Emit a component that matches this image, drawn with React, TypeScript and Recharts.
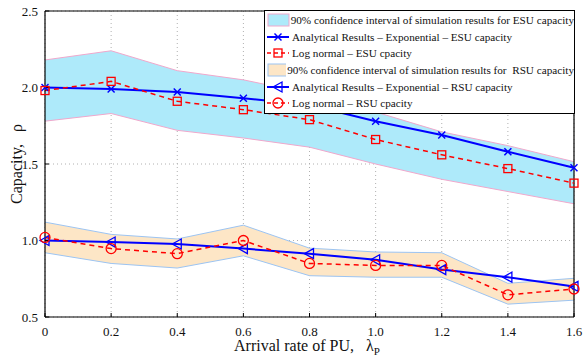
import React from 'react';
import { ComposedChart, Area, Line, XAxis, YAxis, CartesianGrid, ReferenceLine } from 'recharts';

// arrival rate of PU (x axis)
const lambdaP = [0, 0.2, 0.4, 0.6, 0.8, 1.0, 1.2, 1.4, 1.6];

// ESU capacity
const esuCiLow = [1.78, 1.83, 1.72, 1.67, 1.61, 1.5, 1.4, 1.32, 1.24];
const esuCiHigh = [2.18, 2.24, 2.11, 2.05, 1.96, 1.84, 1.71, 1.62, 1.515];
const esuExp = [2.0, 1.99, 1.97, 1.93, 1.885, 1.78, 1.69, 1.58, 1.475];
const esuLogn = [1.98, 2.04, 1.91, 1.855, 1.79, 1.66, 1.56, 1.47, 1.375];

// RSU capacity
const rsuCiLow = [0.92, 0.85, 0.82, 0.9, 0.77, 0.76, 0.76, 0.584, 0.61];
const rsuCiHigh = [1.12, 1.04, 1.01, 1.1, 0.95, 0.925, 0.92, 0.72, 0.753];
const rsuExp = [1.0, 0.99, 0.977, 0.947, 0.914, 0.874, 0.81, 0.76, 0.7];
const rsuLogn = [1.02, 0.947, 0.914, 1.0, 0.85, 0.837, 0.837, 0.645, 0.683];

const xTicks = [0, 0.2, 0.4, 0.6, 0.8, 1.0, 1.2, 1.4, 1.6];
const yTicks = [0.5, 1.0, 1.5, 2.0, 2.5];

const data = lambdaP.map((x, i) => ({
  x,
  esuBand: [esuCiLow[i], esuCiHigh[i]],
  rsuBand: [rsuCiLow[i], rsuCiHigh[i]],
  esuExp: esuExp[i],
  esuLogn: esuLogn[i],
  rsuExp: rsuExp[i],
  rsuLogn: rsuLogn[i],
}));

const BLUE = '#0000ff';
const RED = '#ff0000';
const FONT = '"Liberation Serif", "Times New Roman", serif';
const NB = '\u00a0';

// marker shapes
const XMark = ({ cx, cy }: any) => (
  <g>
    <line x1={cx - 3.5} y1={cy - 3.5} x2={cx + 3.5} y2={cy + 3.5} stroke={BLUE} strokeWidth={1.5} />
    <line x1={cx - 3.5} y1={cy + 3.5} x2={cx + 3.5} y2={cy - 3.5} stroke={BLUE} strokeWidth={1.5} />
  </g>
);
const SquareMark = ({ cx, cy }: any) => (
  <rect x={cx - 4} y={cy - 4} width={8} height={8} fill="none" stroke={RED} strokeWidth={1.3} />
);
const TriMark = ({ cx, cy }: any) => (
  <polygon
    points={`${cx - 5},${cy} ${cx + 4},${cy - 5} ${cx + 4},${cy + 5}`}
    fill="none"
    stroke={BLUE}
    strokeWidth={1.3}
  />
);
const CircleMark = ({ cx, cy }: any) => (
  <circle cx={cx} cy={cy} r={5} fill="none" stroke={RED} strokeWidth={1.3} />
);

const dotOf = (Shape: any) => (props: any) =>
  props.cx == null ? <g key={props.key} /> : <Shape key={props.key} cx={props.cx} cy={props.cy} />;

const legendItems = [
  { kind: 'band', fill: '#aeeafa', stroke: '#f0a8cc', text: '90% confidence interval of simulation results for ESU capacity' },
  { kind: 'line', color: BLUE, dash: undefined, mark: XMark, text: 'Analytical Results \u2013 Exponential \u2013 ESU capacity' },
  { kind: 'line', color: RED, dash: '4 3', mark: SquareMark, text: 'Log normal \u2013 ESU cpacity' },
  { kind: 'band', fill: '#fde6c6', stroke: '#9cc4f2', text: '90% confidence interval of simulation results for\u00a0 RSU capacity' },
  { kind: 'line', color: BLUE, dash: undefined, mark: TriMark, text: 'Analytical Results \u2013 Exponential \u2013 RSU capacity' },
  { kind: 'line', color: RED, dash: '4 3', mark: CircleMark, text: 'Log normal \u2013 RSU cpacity' },
];

function ChartLegend() {
  return (
    <div
      style={{
        position: 'absolute',
        left: 264,
        top: 10,
        width: 309,
        height: 101,
        background: '#fff',
        border: '1px solid #000',
        fontFamily: FONT,
        fontSize: 11.2,
        paddingTop: 1,
      }}
    >
      {legendItems.map((it, i) => {
        const M: any = it.mark;
        return (
          <div key={i} style={{ display: 'flex', alignItems: 'center', height: 16.6, whiteSpace: 'nowrap' }}>
            <svg width={24} height={16} style={{ marginLeft: 2, marginRight: 1 }}>
              {it.kind === 'band' ? (
                <rect x={1} y={2} width={21} height={12} fill={it.fill} stroke={it.stroke} strokeWidth={1} />
              ) : (
                <g>
                  <line x1={0} y1={8} x2={22} y2={8} stroke={it.color} strokeWidth={it.dash ? 1.5 : 2} strokeDasharray={it.dash} />
                  <M cx={11} cy={8} />
                </g>
              )}
            </svg>
            <span style={{ color: '#111' }}>{it.text}</span>
          </div>
        );
      })}
    </div>
  );
}

const fmtX = (v: number) => (v === 0 ? '0' : v.toFixed(1));
const fmtY = (v: number) => v.toFixed(1);

const tickStyle = { fontFamily: FONT, fontSize: 13, fill: '#111' };

export default function App() {
  return (
    <div style={{ position: 'absolute', left: 0, top: 0, width: 584, height: 358, background: '#fff' }}>
      <ComposedChart width={584} height={358} data={data} margin={{ top: 11, right: 10, bottom: 41, left: 0 }}>
        <CartesianGrid stroke="#b0b0b0" strokeDasharray="1 3" />
        {/* mirrored axis takes no layout space; labels pushed below the line */}
        <XAxis
          dataKey="x"
          type="number"
          domain={[0, 1.6]}
          ticks={xTicks}
          tickFormatter={fmtX}
          mirror
          height={30}
          axisLine={{ stroke: '#000', strokeWidth: 1.2 }}
          tickLine={{ stroke: '#000' }}
          tickSize={4}
          tickMargin={-23}
          tick={tickStyle}
        />
        <YAxis
          type="number"
          domain={[0.5, 2.5]}
          ticks={yTicks}
          tickFormatter={fmtY}
          width={45}
          axisLine={{ stroke: '#000', strokeWidth: 1.2 }}
          tickLine={{ stroke: '#000' }}
          tickSize={-4}
          tickMargin={11}
          tick={tickStyle}
          label={{
            value: `Capacity,${NB}${NB} \u03c1`,
            angle: -90,
            position: 'insideLeft',
            offset: 16,
            style: { fontFamily: FONT, fontSize: 16, fill: '#111', textAnchor: 'middle' },
          }}
        />
        <ReferenceLine y={2.5} stroke="#000" strokeWidth={1.2} />
        <ReferenceLine x={1.6} stroke="#000" strokeWidth={1.2} />
        <Area
          dataKey="esuBand"
          type="linear"
          fill="#aeeafa"
          fillOpacity={1}
          stroke="#f0a8cc"
          strokeWidth={1}
          isAnimationActive={false}
        />
        <Area
          dataKey="rsuBand"
          type="linear"
          fill="#fde6c6"
          fillOpacity={1}
          stroke="#9cc4f2"
          strokeWidth={1}
          isAnimationActive={false}
        />
        <Line dataKey="esuExp" type="linear" stroke={BLUE} strokeWidth={2} dot={dotOf(XMark)} isAnimationActive={false} />
        <Line
          dataKey="esuLogn"
          type="linear"
          stroke={RED}
          strokeWidth={1.5}
          strokeDasharray="5 4"
          dot={dotOf(SquareMark)}
          isAnimationActive={false}
        />
        <Line dataKey="rsuExp" type="linear" stroke={BLUE} strokeWidth={2} dot={dotOf(TriMark)} isAnimationActive={false} />
        <Line
          dataKey="rsuLogn"
          type="linear"
          stroke={RED}
          strokeWidth={1.5}
          strokeDasharray="5 4"
          dot={dotOf(CircleMark)}
          isAnimationActive={false}
        />
      </ComposedChart>
      <div
        style={{
          position: 'absolute',
          left: 234,
          top: 338,
          fontFamily: FONT,
          fontSize: 16,
          color: '#111',
          whiteSpace: 'pre',
          lineHeight: '16px',
        }}
      >
        {'Arrival rate of PU,   \u03bb'}
        <sub style={{ fontSize: 11, verticalAlign: '-4px', lineHeight: '10px' }}>P</sub>
      </div>
      <ChartLegend />
    </div>
  );
}
